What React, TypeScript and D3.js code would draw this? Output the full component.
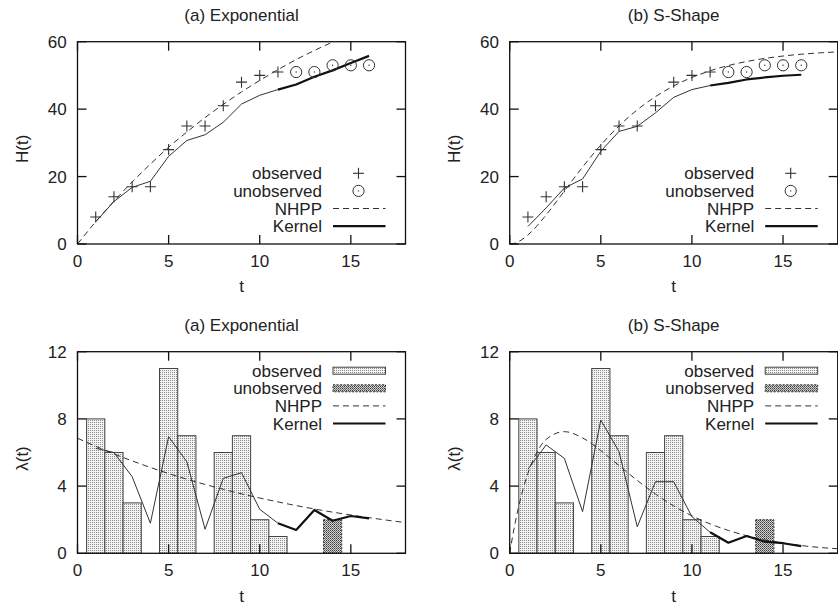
import React from 'react';
import * as d3 from 'd3';

// ---------- data ----------
const T_OBS = [1, 2, 3, 4, 5, 6, 7, 8, 9, 10, 11];
const H_OBS = [8, 14, 17, 17, 28, 35, 35, 41, 48, 50, 51];
const T_UNOBS = [12, 13, 14, 15, 16];
const H_UNOBS = [51, 51, 53, 53, 53];
const COUNT_OBS = [8, 6, 3, 0, 11, 7, 0, 6, 7, 2, 1];
const COUNT_UNOBS = [0, 0, 2, 0, 0];

const T_KERNEL = [1, 2, 3, 4, 5, 6, 7, 8, 9, 10, 11, 12, 13, 14, 15, 16];
const KERNEL_H_EXP = [6.6, 12.6, 16.8, 18.6, 26, 30.7, 32.4, 36.1, 41.5, 44.1, 45.8, 47.3, 49.6, 51.5, 53.7, 55.8];
const KERNEL_H_S = [5.2, 10.7, 16.6, 19.3, 27.5, 33.4, 34.9, 38.9, 43.5, 45.8, 47, 47.8, 48.8, 49.4, 49.9, 50.2];
const KERNEL_L_EXP = [6.25, 6.0, 4.56, 1.79, 6.94, 5.45, 1.43, 4.46, 4.8, 2.62, 1.79, 1.39, 2.58, 1.94, 2.22, 2.08];
const KERNEL_L_S = [5.0, 6.45, 5.65, 2.48, 7.93, 6.05, 1.58, 4.26, 4.26, 2.18, 1.25, 0.63, 1.03, 0.69, 0.6, 0.43];

const T_NHPP_EXP = [0, 1, 2, 3, 4, 5, 6, 7, 8, 9, 10, 11, 12, 13, 14, 15, 16, 17, 18];
const NHPP_H_EXP = [0, 6.6, 12.7, 18.4, 23.7, 28.7, 33.2, 37.5, 41.4, 45.1, 48.5, 51.7, 54.7, 57.4, 59.9, 62.3, 64.5, 66.5, 68.4];
const NHPP_L_EXP = [6.85, 6.37, 5.92, 5.5, 5.11, 4.75, 4.41, 4.1, 3.81, 3.54, 3.29, 3.06, 2.84, 2.64, 2.45, 2.28, 2.12, 1.97, 1.83];

const T_NHPP_S = [0, 0.25, 0.5, 1, 1.5, 2, 3, 4, 5, 6, 7, 8, 9, 10, 11, 12, 13, 14, 15, 16, 17, 18];
const NHPP_H_S = [0, 0.2, 0.75, 2.67, 5.4, 8.62, 15.72, 22.82, 29.34, 35.02, 39.79, 43.71, 46.88, 49.4, 51.38, 52.93, 54.12, 55.04, 55.75, 56.28, 56.68, 56.98];
const NHPP_L_S = [0, 1.54, 2.82, 4.76, 6.03, 6.78, 7.24, 6.87, 6.11, 5.22, 4.34, 3.53, 2.82, 2.23, 1.75, 1.36, 1.05, 0.8, 0.61, 0.46, 0.35, 0.27];

const X_TICKS = [0, 5, 10, 15];
const H_TICKS = [0, 20, 40, 60];
const L_TICKS = [0, 4, 8, 12];
const LEGEND_LABELS = ['observed', 'unobserved', 'NHPP', 'Kernel'];

const FONT = '"Liberation Sans", Arial, Helvetica, sans-serif';
const FS = 17;
const INK = '#222';

type P = [number, number];

function zip(a: number[], b: number[]): P[] {
  return a.map((v, i) => [v, b[i]] as P);
}

interface PanelProps {
  id: string;
  left: number;
  top: number;
  width: number;
  height: number;
  title: string;
  yLabel: string;
  yMax: number;
  yTicks: number[];
  mode: 'cum' | 'rate';
  nhppT: number[];
  nhppV: number[];
  kernelV: number[];
}

function Panel(props: PanelProps) {
  const { id, left, top, width, height, title, yLabel, yMax, yTicks, mode, nhppT, nhppV, kernelV } = props;
  const x = d3.scaleLinear().domain([0, 18]).range([left, left + width]);
  const y = d3.scaleLinear().domain([0, yMax]).range([top + height, top]);
  const straight = d3.line<P>().x(d => x(d[0])).y(d => y(d[1]));
  const smooth = d3.line<P>().x(d => x(d[0])).y(d => y(d[1])).curve(d3.curveMonotoneX);
  const bottom = top + height;
  const right = left + width;
  const tickLen = 9;

  const kpts = zip(T_KERNEL, kernelV);
  const kThin = kpts.slice(0, 11);
  const kThick = kpts.slice(10);

  const legendY0 = mode === 'cum' ? top + 131.6 : top + 19;
  const legendTextX = left + 244.5;
  const sx0 = left + 255.5;
  const sx1 = left + 308;
  const markX = left + 281;

  const plus = (cx: number, cy: number, k: string) => (
    <g key={k} stroke="#333" strokeWidth={1.1}>
      <line x1={cx - 5.5} x2={cx + 5.5} y1={cy} y2={cy} />
      <line x1={cx} x2={cx} y1={cy - 5.5} y2={cy + 5.5} />
    </g>
  );
  const circ = (cx: number, cy: number, k: string) => (
    <g key={k}>
      <circle cx={cx} cy={cy} r={5.6} fill="none" stroke="#333" strokeWidth={1} />
      <circle cx={cx} cy={cy} r={0.7} fill="#333" />
    </g>
  );

  return (
    <g>
      <defs>
        <clipPath id={`clip-${id}`}>
          <rect x={left} y={top} width={width} height={height} />
        </clipPath>
      </defs>
      <text x={(left + right) / 2} y={top - 20.5} textAnchor="middle" fontFamily={FONT} fontSize={FS} fill={INK}>
        {title}
      </text>
      <g clipPath={`url(#clip-${id})`}>
        {mode === 'rate' && (
          <g>
            {COUNT_OBS.map((c, i) =>
              c > 0 ? (
                <rect key={`bo${i}`} x={x(T_OBS[i] - 0.5)} y={y(c)} width={x(T_OBS[i] + 0.5) - x(T_OBS[i] - 0.5)}
                  height={bottom - y(c)} fill="url(#obsPat)" stroke="#444" strokeWidth={1} />
              ) : null
            )}
            {COUNT_UNOBS.map((c, i) =>
              c > 0 ? (
                <rect key={`bu${i}`} x={x(T_UNOBS[i] - 0.5)} y={y(c)} width={x(T_UNOBS[i] + 0.5) - x(T_UNOBS[i] - 0.5)}
                  height={bottom - y(c)} fill="url(#unobsPat)" stroke="#333" strokeWidth={1} strokeDasharray="2,1.5" />
              ) : null
            )}
          </g>
        )}
        <path d={smooth(zip(nhppT, nhppV)) || ''} fill="none" stroke="#333" strokeWidth={1} strokeDasharray="6,4" />
        <path d={straight(kThin) || ''} fill="none" stroke="#333" strokeWidth={1} />
        <path d={straight(kThick) || ''} fill="none" stroke="#111" strokeWidth={2.2} strokeLinejoin="round" />
        {mode === 'cum' && T_OBS.map((t, i) => plus(x(t), y(H_OBS[i]), `p${i}`))}
        {mode === 'cum' && T_UNOBS.map((t, i) => circ(x(t), y(H_UNOBS[i]), `c${i}`))}
      </g>
      {/* frame */}
      <rect x={left} y={top} width={width} height={height} fill="none" stroke="#111" strokeWidth={1.3} />
      {X_TICKS.map(t => (
        <g key={`xt${t}`}>
          <line x1={x(t)} x2={x(t)} y1={bottom} y2={bottom - tickLen} stroke="#111" strokeWidth={1.3} />
          <line x1={x(t)} x2={x(t)} y1={top} y2={top + tickLen} stroke="#111" strokeWidth={1.3} />
          <text x={x(t)} y={bottom + 23} textAnchor="middle" fontFamily={FONT} fontSize={FS} fill={INK}>{t}</text>
        </g>
      ))}
      {yTicks.map(v => (
        <g key={`yt${v}`}>
          <line x1={left} x2={left + tickLen} y1={y(v)} y2={y(v)} stroke="#111" strokeWidth={1.3} />
          <line x1={right} x2={right - tickLen} y1={y(v)} y2={y(v)} stroke="#111" strokeWidth={1.3} />
          <text x={left - 10.8} y={y(v)} dy="0.36em" textAnchor="end" fontFamily={FONT} fontSize={FS} fill={INK}>{v}</text>
        </g>
      ))}
      <text x={(left + right) / 2} y={bottom + 48.3} textAnchor="middle" fontFamily={FONT} fontSize={FS} fill={INK}>t</text>
      <text transform={`translate(${left - 50},${(top + bottom) / 2 + 6}) rotate(-90)`} textAnchor="middle"
        fontFamily={FONT} fontSize={FS} fill={INK}>{yLabel}</text>
      {/* legend */}
      {LEGEND_LABELS.map((lab, i) => {
        const cy = legendY0 + i * 17.6;
        let sample: React.ReactNode = null;
        if (i === 0) {
          sample = mode === 'cum' ? plus(markX, cy, 'lp') :
            <rect x={sx0} y={cy - 3.5} width={sx1 - sx0} height={7} fill="url(#obsPat)" stroke="#444" strokeWidth={1} />;
        } else if (i === 1) {
          sample = mode === 'cum' ? circ(markX, cy, 'lc') :
            <rect x={sx0} y={cy - 3.5} width={sx1 - sx0} height={7} fill="url(#unobsPat)" stroke="#333" strokeWidth={1} strokeDasharray="2,1.5" />;
        } else if (i === 2) {
          sample = <line x1={sx0} x2={sx1} y1={cy} y2={cy} stroke="#333" strokeWidth={1} strokeDasharray="6,4" />;
        } else {
          sample = <line x1={sx0} x2={sx1} y1={cy} y2={cy} stroke="#111" strokeWidth={2.2} />;
        }
        return (
          <g key={`lg${i}`}>
            <text x={legendTextX} y={cy} dy="0.36em" textAnchor="end" fontFamily={FONT} fontSize={FS} fill={INK}>{lab}</text>
            {sample}
          </g>
        );
      })}
    </g>
  );
}

export default function App() {
  const W = 838;
  const Hh = 605;
  const pw = 328;
  return (
    <svg width={W} height={Hh} viewBox={`0 0 ${W} ${Hh}`}
      style={{ position: 'absolute', left: 0, top: 0, background: '#fff' }}>
      <defs>
        <pattern id="obsPat" width={2} height={2} patternUnits="userSpaceOnUse">
          <rect width={2} height={2} fill="#f3f3f3" />
          <rect width={1} height={1} fill="#8c8c8c" />
        </pattern>
        <pattern id="unobsPat" width={2} height={2} patternUnits="userSpaceOnUse">
          <rect width={2} height={2} fill="#d2d2d2" />
          <rect width={1} height={1} fill="#3a3a3a" />
          <rect x={1} y={1} width={1} height={1} fill="#707070" />
        </pattern>
      </defs>
      <rect width={W} height={Hh} fill="#fff" />
      <Panel id="a1" left={77.5} top={41.7} width={pw} height={202.3} title="(a) Exponential" yLabel="H(t)"
        yMax={60} yTicks={H_TICKS} mode="cum" nhppT={T_NHPP_EXP} nhppV={NHPP_H_EXP} kernelV={KERNEL_H_EXP} />
      <Panel id="b1" left={509.7} top={41.7} width={pw} height={202.3} title="(b) S-Shape" yLabel="H(t)"
        yMax={60} yTicks={H_TICKS} mode="cum" nhppT={T_NHPP_S} nhppV={NHPP_H_S} kernelV={KERNEL_H_S} />
      <Panel id="a2" left={77.5} top={351.7} width={pw} height={201.6} title="(a) Exponential" yLabel="λ(t)"
        yMax={12} yTicks={L_TICKS} mode="rate" nhppT={T_NHPP_EXP} nhppV={NHPP_L_EXP} kernelV={KERNEL_L_EXP} />
      <Panel id="b2" left={509.7} top={351.7} width={pw} height={201.6} title="(b) S-Shape" yLabel="λ(t)"
        yMax={12} yTicks={L_TICKS} mode="rate" nhppT={T_NHPP_S} nhppV={NHPP_L_S} kernelV={KERNEL_L_S} />
    </svg>
  );
}
